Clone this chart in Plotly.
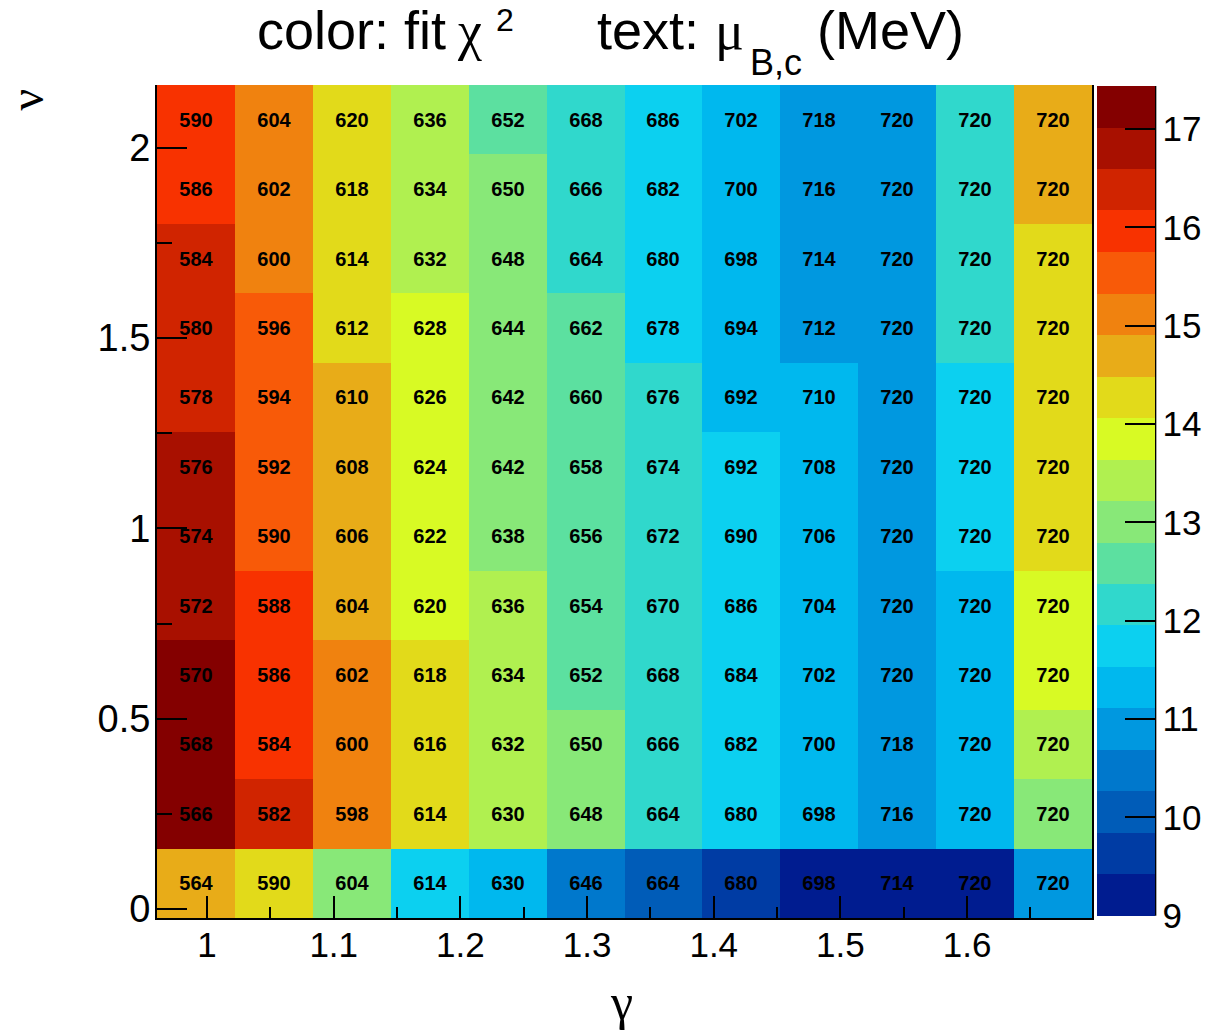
import numpy as np
import plotly.graph_objects as go

# ---------------- data ----------------
gamma_range = [0.9605, 1.6986]   # histogram x range (gamma)
nu_range = [-0.0236, 2.165]      # histogram y range (nu)
n_gamma = 12
n_nu = 12

# chi2 (color), rows from bottom (nu low) to top (nu high)
chi2 = [
    [14.70, 14.27, 13.01, 11.74, 11.32, 10.48, 10.06, 9.63, 9.21, 9.21, 9.21, 10.90],
    [17.23, 16.38, 15.12, 14.27, 13.43, 13.01, 12.17, 11.74, 11.32, 10.90, 11.32, 13.01],
    [17.23, 15.96, 15.12, 14.27, 13.43, 13.01, 12.17, 11.74, 11.32, 10.90, 11.32, 13.43],
    [17.23, 15.96, 15.12, 14.27, 13.43, 12.59, 12.17, 11.74, 11.32, 10.90, 11.32, 13.85],
    [16.81, 15.96, 14.70, 13.85, 13.43, 12.59, 12.17, 11.74, 11.32, 10.90, 11.32, 13.85],
    [16.81, 15.54, 14.70, 13.85, 13.01, 12.59, 12.17, 11.74, 11.32, 10.90, 11.74, 14.27],
    [16.81, 15.54, 14.70, 13.85, 13.01, 12.59, 12.17, 11.74, 11.32, 10.90, 11.74, 14.27],
    [16.38, 15.54, 14.70, 13.85, 13.01, 12.59, 12.17, 11.32, 11.32, 10.90, 11.74, 14.27],
    [16.38, 15.54, 14.27, 13.85, 13.01, 12.59, 11.74, 11.32, 10.90, 10.90, 12.17, 14.27],
    [16.38, 15.12, 14.27, 13.43, 13.01, 12.17, 11.74, 11.32, 10.90, 10.90, 12.17, 14.27],
    [15.96, 15.12, 14.27, 13.43, 13.01, 12.17, 11.74, 11.32, 10.90, 10.90, 12.17, 14.70],
    [15.96, 15.12, 14.27, 13.43, 12.59, 12.17, 11.74, 11.32, 10.90, 10.90, 12.17, 14.70],
]

# mu_B,c in MeV (text), rows from bottom to top
mu_bc = [
    [564, 590, 604, 614, 630, 646, 664, 680, 698, 714, 720, 720],
    [566, 582, 598, 614, 630, 648, 664, 680, 698, 716, 720, 720],
    [568, 584, 600, 616, 632, 650, 666, 682, 700, 718, 720, 720],
    [570, 586, 602, 618, 634, 652, 668, 684, 702, 720, 720, 720],
    [572, 588, 604, 620, 636, 654, 670, 686, 704, 720, 720, 720],
    [574, 590, 606, 622, 638, 656, 672, 690, 706, 720, 720, 720],
    [576, 592, 608, 624, 642, 658, 674, 692, 708, 720, 720, 720],
    [578, 594, 610, 626, 642, 660, 676, 692, 710, 720, 720, 720],
    [580, 596, 612, 628, 644, 662, 678, 694, 712, 720, 720, 720],
    [584, 600, 614, 632, 648, 664, 680, 698, 714, 720, 720, 720],
    [586, 602, 618, 634, 650, 666, 682, 700, 716, 720, 720, 720],
    [590, 604, 620, 636, 652, 668, 686, 702, 718, 720, 720, 720],
]

z_min, z_max = 9.0, 17.44
palette = ["#001c90", "#003ca4", "#005cb8", "#0078cc", "#0098e0", "#00b8ee",
           "#0cd0f0", "#30d8cc", "#5ce0a0", "#88e878", "#b0f050", "#d8fa24",
           "#e2da1a", "#e8ac18", "#f0820f", "#f85a08", "#f83200", "#d02400",
           "#a81000", "#840000"]

# ---------------- figure ----------------
gamma_edges = np.linspace(gamma_range[0], gamma_range[1], n_gamma + 1)
nu_edges = np.linspace(nu_range[0], nu_range[1], n_nu + 1)

nb = len(palette)
colorscale = []
for i, c in enumerate(palette):
    colorscale.append([i / nb, c])
    colorscale.append([(i + 1) / nb, c])

W, H = 1216, 1034
L, R, T, B = 157.3, 1091.7, 85.0, 918.3
pw, ph = R - L, B - T


def px_x(x):
    return (x - L) / pw


def px_y(y):
    return (B - y) / ph


FONT = "Liberation Sans, Arial, sans-serif"
SERIF = "Liberation Serif, Times New Roman, serif"

fig = go.Figure()
fig.add_trace(go.Heatmap(
    x=gamma_edges, y=nu_edges, z=chi2,
    text=mu_bc, texttemplate="<b>%{text}</b>",
    textfont=dict(family=FONT, size=20, color="black"),
    colorscale=colorscale, zmin=z_min, zmax=z_max,
    hoverinfo="skip",
    colorbar=dict(
        thicknessmode="pixels", thickness=58,
        lenmode="pixels", len=830,
        x=px_x(1097), xanchor="left", xpad=0,
        y=px_y(916), yanchor="bottom", ypad=0,
        outlinewidth=0,
        ticks="inside", ticklen=30, tickwidth=2, tickcolor="black",
        tick0=9, dtick=1,
        tickfont=dict(family=FONT, size=35, color="black"),
    ),
))

fig.add_shape(type="line", xref="paper", yref="paper",
              x0=px_x(1155), x1=px_x(1155), y0=px_y(916), y1=px_y(86),
              line=dict(color="black", width=2))

fig.update_xaxes(
    range=gamma_range, showgrid=False, zeroline=False,
    showline=True, linecolor="black", linewidth=2, mirror=False,
    ticks="inside", ticklen=22, tickwidth=2, tickcolor="black",
    tick0=1.0, dtick=0.1, ticklabelstandoff=-5,
    minor=dict(ticks="inside", ticklen=11, tickwidth=2, tickcolor="black", dtick=0.05, tick0=1.0),
    tickfont=dict(family=FONT, size=35, color="black"),
)
fig.update_yaxes(
    range=nu_range, showgrid=False, zeroline=False,
    showline=True, linecolor="black", linewidth=2, mirror=True,
    ticks="inside", ticklen=30, tickwidth=2, tickcolor="black",
    tick0=0, dtick=0.5, ticklabelstandoff=-3,
    minor=dict(ticks="inside", ticklen=15, tickwidth=2, tickcolor="black", dtick=0.25, tick0=0),
    tickfont=dict(family=FONT, size=38, color="black"),
)

TS = 54  # title font size
# (text, left x px, baseline y px, size, family, descent)
title_parts = [
    ("color: fit", 255, 50, TS, FONT, 0.212),
    ("χ", 455, 50, 54, SERIF, 0.216),
    ("2", 494, 32, 32, FONT, 0.212),
    ("text:", 595, 50, TS, FONT, 0.212),
    ("μ", 713, 50, 54, SERIF, 0.216),
    ("B,c", 748, 76, 36, FONT, 0.212),
    ("(MeV)", 815, 50, TS, FONT, 0.212),
]
for txt, xl, base, fs, fam, desc in title_parts:
    fig.add_annotation(text=txt, xref="paper", yref="paper",
                       x=px_x(xl), y=px_y(base + desc * fs + 1),
                       xanchor="left", yanchor="bottom", showarrow=False,
                       font=dict(family=fam, size=fs, color="black"))

fig.add_annotation(text="ν", xref="paper", yref="paper",
                   x=px_x(44 - 0.3375 * 48), y=px_y(99), xanchor="center", yanchor="middle",
                   textangle=-90, showarrow=False,
                   font=dict(family=SERIF, size=48, color="black"))
fig.add_annotation(text="γ", xref="paper", yref="paper",
                   x=px_x(622), y=px_y(1002), xanchor="center", yanchor="middle",
                   showarrow=False, font=dict(family=SERIF, size=50, color="black"))

fig.update_layout(
    width=W, height=H,
    margin=dict(l=L, r=W - R, t=T, b=H - B, pad=0, autoexpand=False),
    paper_bgcolor="white", plot_bgcolor="white",
    showlegend=False,
)

fig.write_html("out.html", config={"displayModeBar": False},
               post_script="document.body.style.margin='0';document.body.style.overflow='hidden';")
